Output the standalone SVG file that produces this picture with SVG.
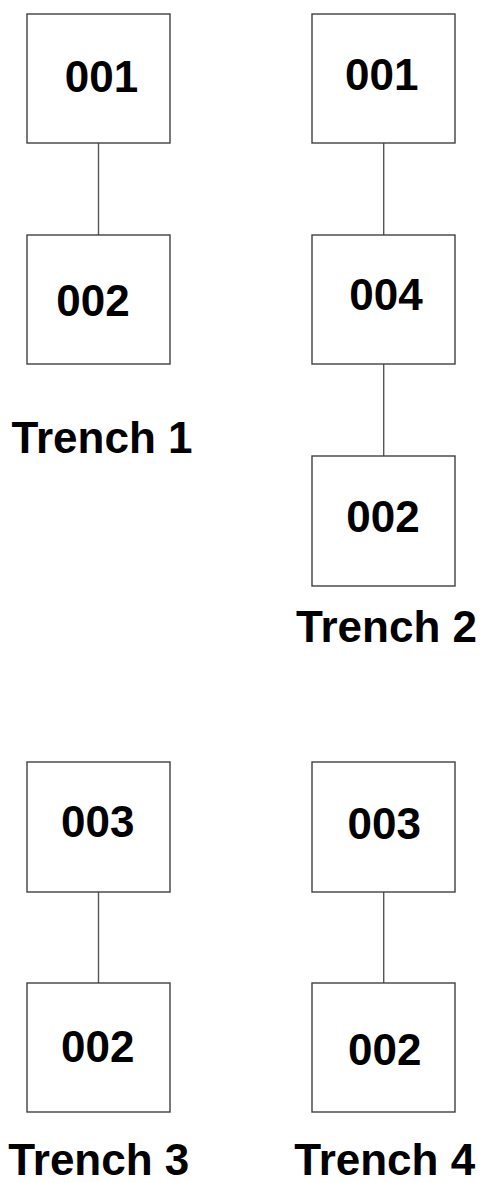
<svg xmlns="http://www.w3.org/2000/svg" width="486" height="1183" viewBox="0 0 486 1183">
<style>
.box{fill:#ffffff;stroke:#404040;stroke-width:1.4}
.lbl{font-family:"Liberation Sans",Arial,sans-serif;font-weight:bold;font-size:44px;fill:#000;text-anchor:middle}
.con{stroke:#555555;stroke-width:1.4;fill:none}
</style>
<rect width="486" height="1183" fill="#ffffff"/>
<g id="connectors">
<line class="con" x1="98.5" y1="143" x2="98.5" y2="235"/>
<line class="con" x1="383.7" y1="143" x2="383.7" y2="235"/>
<line class="con" x1="383.7" y1="364" x2="383.7" y2="456"/>
<line class="con" x1="98.5" y1="892" x2="98.5" y2="983"/>
<line class="con" x1="383.7" y1="892" x2="383.7" y2="983"/>
</g>
<g id="t1-001"><rect class="box" x="27" y="14" width="143" height="129"/><text class="lbl" x="101.5" y="92">001</text></g>
<g id="t1-002"><rect class="box" x="27" y="235" width="143" height="129"/><text class="lbl" x="93" y="315.5">002</text></g>
<g id="t1-label"><text class="lbl" x="102" y="453">Trench 1</text></g>
<g id="t2-001"><rect class="box" x="312" y="14" width="143" height="129"/><text class="lbl" x="381.7" y="89.5">001</text></g>
<g id="t2-004"><rect class="box" x="312" y="235" width="143" height="129"/><text class="lbl" x="386" y="310">004</text></g>
<g id="t2-002"><rect class="box" x="312" y="456" width="143" height="130"/><text class="lbl" x="383" y="532.3">002</text></g>
<g id="t2-label"><text class="lbl" x="386.5" y="642.3">Trench 2</text></g>
<g id="t3-003"><rect class="box" x="27" y="762" width="143" height="130"/><text class="lbl" x="97.8" y="837.3">003</text></g>
<g id="t3-002"><rect class="box" x="27" y="983" width="143" height="129"/><text class="lbl" x="97.8" y="1062.3">002</text></g>
<g id="t3-label"><text class="lbl" x="98.8" y="1174.5">Trench 3</text></g>
<g id="t4-003"><rect class="box" x="312" y="762" width="143" height="130"/><text class="lbl" x="384.3" y="839">003</text></g>
<g id="t4-002"><rect class="box" x="312" y="983" width="143" height="129"/><text class="lbl" x="384.7" y="1065">002</text></g>
<g id="t4-label"><text class="lbl" x="384.7" y="1174.5">Trench 4</text></g>
</svg>
